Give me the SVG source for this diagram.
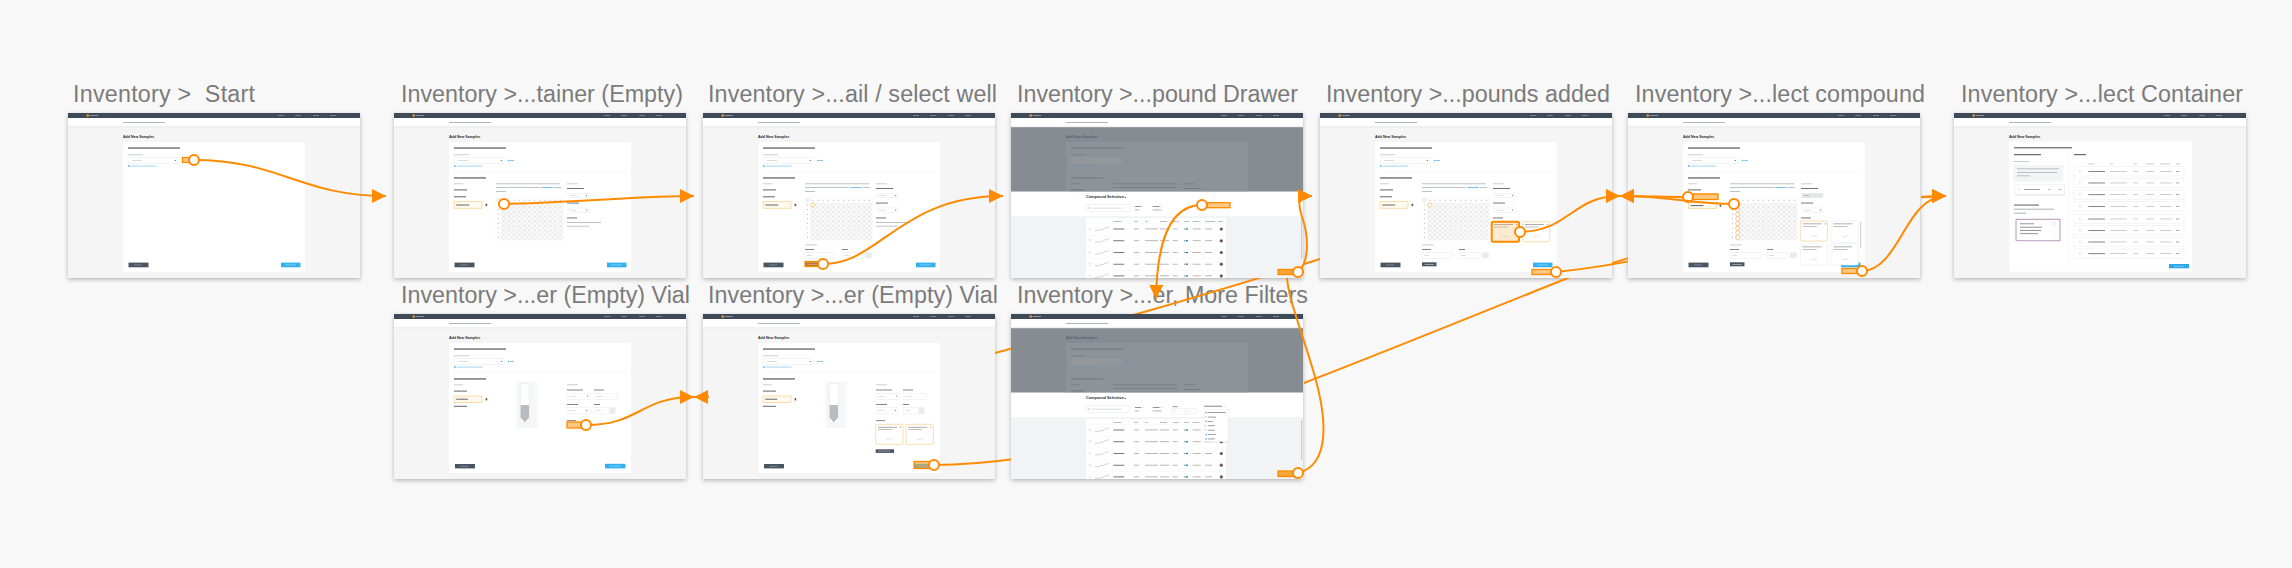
<svg xmlns="http://www.w3.org/2000/svg" width="2292" height="568" viewBox="0 0 2292 568">
<defs>
<style>
.title{font-family:"Liberation Sans",Arial,Helvetica,sans-serif;font-size:23.3px;fill:#7b7b7b;white-space:pre}
.h{font-family:"Liberation Sans",Arial,Helvetica,sans-serif;font-weight:bold;fill:#2a2a2a}
.conn{fill:none;stroke:#ff8a00;stroke-width:2}
.hot{fill:#ff9a1f;fill-opacity:.55;stroke:#ff8a00;stroke-width:1.3}
.hotc{fill:#ff9a1f;fill-opacity:.2;stroke:#ff8a00;stroke-width:2}
.lt{fill:#b3b7bb}
.dk{fill:#4a4a4a}
.md{fill:#666}
.ds{fill:#a4a8ac}
.ph{fill:#c9ccd0}
.bl{fill:#3fa8e6}
.inp{fill:#fff;stroke:#dfe2e5;stroke-width:.4}
.sel{fill:#fffaf0;stroke:#f8c674;stroke-width:.6}
.bd{fill:#4a5562}
.bb{fill:#33b1ef}
.fd{fill:#72777e}
.card{fill:#fff;stroke:#f9cf8a;stroke-width:.7}
.cardg{fill:#fff;stroke:#e3e5e7;stroke-width:.5}
</style>
<filter id="sh" x="-5%" y="-5%" width="110%" height="116%"><feDropShadow dx="0" dy="1.5" stdDeviation="2" flood-color="#000" flood-opacity=".28"/></filter>
<filter id="sh2" x="-20%" y="-10%" width="140%" height="130%"><feDropShadow dx="0" dy=".4" stdDeviation=".6" flood-color="#000" flood-opacity=".2"/></filter>
<marker id="arr" viewBox="0 0 14 14" refX="14" refY="7" markerWidth="14" markerHeight="14" markerUnits="userSpaceOnUse" orient="auto"><path d="M0,0 L14,7 L0,14 z" fill="#ff8a00"/></marker>
<marker id="dot" viewBox="-7 -7 14 14" refX="0" refY="0" markerWidth="14" markerHeight="14" markerUnits="userSpaceOnUse"><circle r="5" fill="#fff" stroke="#ff8a00" stroke-width="2"/></marker>
<pattern id="wells" patternUnits="userSpaceOnUse" x="107.15" y="89.65" width="5.15" height="4.65"><circle cx="2.575" cy="2.325" r="2.05" fill="#fbfbfb" stroke="#d2d2d2" stroke-width=".45"/></pattern>
<mask id="mA" maskUnits="userSpaceOnUse" x="0" y="0" width="2292" height="568"><rect width="2292" height="568" fill="#fff"/><rect x="709" y="314" width="286" height="165"/><rect x="1011" y="314" width="293" height="165"/><rect x="1011" y="113" width="293" height="165"/><rect x="1320" y="113" width="292" height="165"/></mask>
<mask id="m12" maskUnits="userSpaceOnUse" x="0" y="0" width="2292" height="568"><rect width="2292" height="568" fill="#fff"/><rect x="1011" y="314" width="293" height="165"/><rect x="1320" y="113" width="292" height="165"/><rect x="1628" y="113" width="293" height="165"/></mask>
<mask id="m6" maskUnits="userSpaceOnUse" x="0" y="0" width="2292" height="568"><rect width="2292" height="568" fill="#fff"/><rect x="1628" y="113" width="293" height="165"/></mask>
<mask id="m4" maskUnits="userSpaceOnUse" x="0" y="0" width="2292" height="568"><rect width="2292" height="568" fill="#fff"/><rect x="1011" y="113" width="293" height="165"/></mask>

<g id="chrome">
<rect width="292" height="165" fill="#f5f5f6" filter="url(#sh)"/>
<rect width="292" height="5" fill="#3e4a57"/>
<rect x="18.6" y="1.4" width="2.2" height="2.2" fill="#e9a33b"/>
<rect x="21.6" y="2.1" width="8.5" height=".8" fill="#9ca6b0"/>
<rect x="210" y="2.2" width="6" height=".7" fill="#8d98a3"/>
<rect x="227" y="2.2" width="6" height=".7" fill="#8d98a3"/>
<rect x="245" y="2.2" width="6" height=".7" fill="#8d98a3"/>
<rect x="262" y="2.2" width="6" height=".7" fill="#8d98a3"/>
<rect y="5" width="292" height="8.8" fill="#fff"/>
<rect y="13.6" width="292" height=".6" fill="#dadde0"/>
<rect x="55" y="9.1" width="42" height=".9" fill="#a9adb2"/>
</g>
<g id="cardHead">
<rect x="55" y="29" width="182" height="130" fill="#fff"/>
<text class="h" x="55" y="24.6" font-size="3.6">Add New Samples</text>
<rect x="60" y="34.5" width="52" height="1.1" class="dk"/>
<rect x="60" y="41.5" width="15" height=".7" class="lt"/>
<rect x="60" y="44.8" width="50" height="5.4" class="inp"/>
<rect x="64" y="47.1" width="10" height=".7" class="ph"/>
<path d="M106.4,47 h1.8 l-.9,1.1 z" fill="#444"/>
<rect x="60" y="52.4" width="1.7" height="1.3" class="bl"/>
<rect x="62.5" y="52.7" width="26" height=".7" fill="#79c0ec"/>
</g>
<g id="addLink"><rect x="114" y="46.9" width="1.4" height="1.1" class="bl"/><rect x="116.2" y="47.1" width="3.6" height=".7" class="bl"/></g>
<g id="btns"><rect x="60.5" y="149.6" width="20" height="4.7" class="bd"/><rect x="66" y="151.7" width="8" height=".5" fill="#aeb5bd"/><rect x="213" y="149.6" width="19.5" height="4.7" class="bb"/><rect x="217" y="151.7" width="11" height=".5" fill="#bfe6fb"/></g>
<g id="grid">
<rect x="102" y="84.8" width="67.2" height="42.3" fill="#fff" stroke="#eeeeee" stroke-width=".3"/>
<circle cx="104.5" cy="87.2" r="1.5" fill="none" stroke="#aaa" stroke-width=".35"/>
<line x1="107.15" y1="87.3" x2="169" y2="87.3" stroke="#999" stroke-width=".6" stroke-dasharray="0 1.9 1.35 1.9"/>
<line x1="104.5" y1="89.65" x2="104.5" y2="126.85" stroke="#999" stroke-width=".9" stroke-dasharray="0 1.95 .75 1.95"/>
<rect x="107.15" y="89.65" width="61.8" height="37.2" fill="url(#wells)"/>
</g>
<g id="details">
<rect x="60" y="58" width="172" height=".4" fill="#eceef0"/>
<rect x="60" y="64.4" width="32" height="1.1" class="dk"/>
<rect x="60" y="70.5" width="9" height=".7" class="lt"/>
<rect x="102" y="70.5" width="64" height=".7" class="ds"/>
<rect x="102" y="74.3" width="44" height=".7" class="ds"/>
<rect x="147" y="74.3" width="12" height=".7" class="bl"/>
<rect x="160" y="74.3" width="7" height=".7" class="ds"/>
<rect x="102" y="78" width="10" height=".7" class="ds"/>
<use href="#grid"/>
<rect x="173" y="70.5" width="11" height=".7" class="lt"/>
<rect x="173" y="75" width="17" height=".9" class="md"/>
<rect x="174" y="80.2" width="21" height="4.6" class="inp"/>
<rect x="176" y="82.1" width="7" height=".6" class="ph"/>
<path d="M191.8,82 h1.6 l-.8,1 z" fill="#444"/>
<rect x="173" y="89.6" width="12" height=".9" class="md"/>
<rect x="174" y="95" width="21" height="4.6" class="inp"/>
<rect x="176" y="96.9" width="7" height=".6" class="ph"/>
<path d="M191.8,96.8 h1.6 l-.8,1 z" fill="#444"/>
<rect x="173" y="104.5" width="10" height=".9" class="md"/>
</g>
<g id="leftCol">
<rect x="60" y="76.4" width="13" height="1" class="md"/>
<rect x="60" y="83.3" width="12" height="1" class="md"/>
<rect x="60" y="88.7" width="28" height="6.5" class="sel"/>
<rect x="62.2" y="91.5" width="13" height="1" class="md"/>
<rect x="91.6" y="90.8" width="1.6" height="2.3" fill="#555"/>
</g>
<g id="compDesc"><rect x="173" y="109" width="34" height=".7" class="ds"/><rect x="173" y="112.8" width="22" height=".7" class="ds"/></g>
<g id="wellc">
<rect x="102" y="131.6" width="12" height=".7" class="lt"/>
<rect x="102" y="136.2" width="9" height=".8" class="md"/>
<rect x="102" y="139.3" width="30" height="6" class="inp"/>
<rect x="104" y="141.9" width="5" height=".7" class="ph"/>
<rect x="139" y="136.2" width="6" height=".8" class="md"/>
<rect x="139" y="139.3" width="21" height="6" class="inp"/>
<rect x="141" y="141.9" width="5" height=".7" class="ph"/>
<rect x="162" y="139.3" width="6.7" height="6" fill="#e9ebed"/>
<rect x="102" y="149.3" width="14.5" height="4" class="bd"/>
<rect x="104.5" y="151" width="9.5" height=".6" fill="#c8ccd0"/>
</g>
<g id="cmpCard">
<rect x="0" y="0" width="27.3" height="20" rx="1" class="card"/>
<rect x="2.3" y="2.6" width="19" height=".6" fill="#777"/>
<rect x="24.3" y="2.3" width="1" height="1.2" fill="#999"/>
<rect x="2.3" y="5" width="14" height=".6" fill="#999"/>
<path d="M10.5,15.5 l2,-1 1.5,1 2,-1.5 1.5,1" fill="none" stroke="#c6c6c6" stroke-width=".5"/>
</g>
<g id="row">
<rect x="75" y="-5.7" width="140" height=".3" fill="#eceef0"/>
<rect x="78" y="-1" width="2" height="2" fill="none" stroke="#c8cacc" stroke-width=".3"/>
<path d="M84,1.8 l2.5,-.8 1.5,.8 2,-1.6 1.8,.6 2,-2 1.8,.4 2.4,-1.8" fill="none" stroke="#b99aa5" stroke-width=".5"/>
<rect x="102.3" y="-.4" width="11" height=".8" fill="#555"/>
<rect x="123" y="-.4" width="5" height=".7" fill="#999"/>
<rect x="134" y="-.4" width="13" height=".7" fill="#999"/>
<rect x="149" y="-.4" width="9" height=".7" fill="#999"/>
<rect x="161.7" y="-.4" width="5" height=".7" fill="#999"/>
<rect x="173" y="-.6" width="1.5" height="1.2" class="bl"/>
<rect x="175" y="-.6" width="2" height="1.2" fill="#555"/>
<rect x="181.7" y="-.4" width="8" height=".7" fill="#999"/>
<rect x="194" y="-.4" width="7" height=".7" fill="#999"/>
<circle cx="210.3" cy="0" r="1.6" fill="#6e5261"/>
</g>
<g id="drawer">
<rect y="14.2" width="292" height="64.5" fill="#878c93"/>
<rect x="55" y="29" width="182" height="49.7" fill="#8e9399"/>
<text x="55" y="24.6" font-size="3.6" font-weight="bold" font-family="Liberation Sans, Arial, sans-serif" fill="#5c6168">Add New Samples</text>
<rect x="60" y="34.5" width="52" height="1" class="fd"/>
<rect x="60" y="41.5" width="15" height=".7" class="fd"/>
<rect x="60" y="44.8" width="50" height="5.4" fill="#92979c" stroke="#9ba0a5" stroke-width=".4"/>
<rect x="114" y="47" width="5" height=".8" fill="#6f93ab"/>
<rect x="60" y="52.5" width="26" height=".7" fill="#7195ad"/>
<rect x="60" y="58" width="172" height=".4" fill="#9499a0"/>
<rect x="60" y="64.4" width="32" height="1" class="fd"/>
<rect x="60" y="70.5" width="9" height=".7" class="fd"/>
<rect x="60" y="76.4" width="13" height="1" class="fd"/>
<rect x="102" y="70.5" width="64" height=".7" class="fd"/>
<rect x="102" y="74.3" width="64" height=".7" class="fd"/>
<rect x="173" y="70.5" width="11" height=".7" class="fd"/>
<rect x="173" y="75" width="17" height=".8" class="fd"/>
<rect y="78.7" width="292" height="24.5" fill="#fff"/>
<rect y="103.2" width="292" height="61.8" fill="#f2f3f4"/>
<text class="h" x="75" y="85.4" font-size="3.8">Compound Selection</text>
<path d="M113.6,84.1 h1.8 l-.9,1.1 z" fill="#444"/>
<rect x="75" y="91.6" width="43.3" height="7" class="inp"/>
<circle cx="78" cy="95.1" r=".9" fill="none" stroke="#999" stroke-width=".3"/>
<rect x="80.5" y="94.8" width="30" height=".6" fill="#c2c5c8"/>
<rect x="124" y="93" width="6" height=".7" fill="#666"/>
<path d="M131.3,92.9 h1.2 l-.6,.8 z" fill="#777"/>
<rect x="124" y="96.6" width="4" height=".7" fill="#999"/>
<rect x="141.7" y="93" width="7" height=".7" fill="#666"/>
<path d="M150,92.9 h1.2 l-.6,.8 z" fill="#777"/>
<rect x="141.7" y="96.6" width="9" height=".7" fill="#999"/>
<rect x="75" y="105" width="140" height="60" fill="#fff"/>
<rect x="102.3" y="108" width="8" height=".6" fill="#8f9397"/>
<rect x="123" y="108" width="4" height=".6" fill="#8f9397"/>
<rect x="134" y="108" width="3" height=".6" fill="#8f9397"/>
<rect x="149" y="108" width="7" height=".6" fill="#8f9397"/>
<rect x="161.7" y="108" width="6" height=".6" fill="#8f9397"/>
<rect x="173" y="108" width="5" height=".6" fill="#8f9397"/>
<rect x="181.7" y="108" width="7" height=".6" fill="#8f9397"/>
<rect x="194" y="108" width="10" height=".6" fill="#8f9397"/>
<rect x="207" y="108" width="5" height=".6" fill="#8f9397"/>
<use href="#row" y="116"/>
<use href="#row" y="127.8"/>
<use href="#row" y="139.5"/>
<use href="#row" y="151.2"/>
<use href="#row" y="162.9"/>
<rect x="290" y="106" width="1.2" height="40" fill="#c9cbcd"/>
</g>
<g id="vial">
<rect x="60" y="58" width="172" height=".4" fill="#eceef0"/>
<rect x="60" y="64.4" width="32" height="1.1" class="dk"/>
<rect x="60" y="70.5" width="9" height=".7" class="lt"/>
<rect x="60" y="76.6" width="13" height="1" class="md"/>
<rect x="60" y="82" width="28" height="6.4" class="sel"/>
<rect x="62.2" y="84.7" width="12" height="1" class="md"/>
<rect x="91.6" y="84.1" width="1.6" height="2.3" fill="#555"/>
<rect x="60" y="91.8" width="13" height="1" class="md"/>
<rect x="122.5" y="67.5" width="21" height="46.5" fill="#f6f7f8"/>
<rect x="126.3" y="69.5" width="9" height="39.5" rx="1" fill="#fff" stroke="#dfe1e3" stroke-width=".5"/>
<path d="M126.6,91 h8.4 v12.5 l-4.2,5 l-4.2,-5 z" fill="#b8bcc0"/>
<rect x="173" y="70.5" width="11" height=".7" class="lt"/>
<rect x="173" y="75.6" width="16" height=".8" class="md"/>
<rect x="173" y="79.3" width="23" height="6" class="inp"/>
<rect x="175" y="81.9" width="7" height=".6" class="ph"/>
<path d="M192.6,81.8 h1.6 l-.8,1 z" fill="#444"/>
<rect x="200" y="75.6" width="10" height=".8" class="md"/>
<rect x="200" y="79.3" width="23.5" height="6" class="inp"/>
<rect x="202" y="81.9" width="7" height=".6" class="ph"/>
<rect x="173" y="90" width="11" height=".8" class="md"/>
<rect x="173" y="93.3" width="22" height="6.7" class="inp"/>
<rect x="175" y="96.3" width="7" height=".6" class="ph"/>
<path d="M191.8,96.2 h1.6 l-.8,1 z" fill="#444"/>
<rect x="200" y="90" width="6" height=".8" class="md"/>
<rect x="200" y="93.3" width="15" height="6.7" class="inp"/>
<rect x="202" y="96.3" width="5" height=".6" class="ph"/>
<rect x="216" y="93.3" width="5.3" height="6.7" fill="#e9ebed"/>
<rect x="173" y="106.3" width="9" height=".8" class="md"/>
<rect x="61" y="150" width="20" height="4.4" class="bd"/>
<rect x="66.5" y="151.9" width="8" height=".5" fill="#aeb5bd"/>
<rect x="211" y="149.8" width="20.5" height="4.6" class="bb"/>
<rect x="215" y="151.8" width="12" height=".5" fill="#bfe6fb"/>
</g>
<g id="crow">
<rect x="119.3" y="0" width="110.7" height="9.3" fill="#fff" stroke="#e4e6e8" stroke-width=".4"/>
<rect x="125.3" y="3.6" width="2.2" height="2.2" fill="none" stroke="#c8cacc" stroke-width=".3"/>
<rect x="134.3" y="4.3" width="16.7" height=".8" fill="#666"/>
<rect x="156" y="4.3" width="16.7" height=".7" fill="#b5b8bb"/>
<rect x="179.3" y="4.3" width="4.7" height=".7" fill="#b5b8bb"/>
<rect x="192" y="4.3" width="8" height=".7" fill="#b5b8bb"/>
<rect x="206" y="4.3" width="11.7" height=".7" fill="#b5b8bb"/>
<rect x="222" y="4.3" width="3.3" height=".7" fill="#888"/>
</g>
</defs>

<rect width="2292" height="568" fill="#f8f8f8"/>

<g id="node-start" transform="translate(68,113)">
<text class="title" x="5" y="-11.5" textLength="182" lengthAdjust="spacing">Inventory &gt;  Start</text>
<use href="#chrome"/><use href="#cardHead"/><use href="#btns"/>
</g>

<g id="node-container-empty" transform="translate(394,113)">
<text class="title" x="7" y="-11.5" textLength="282" lengthAdjust="spacing">Inventory &gt;...tainer (Empty)</text>
<use href="#chrome"/><use href="#cardHead"/><use href="#addLink"/><use href="#details"/><use href="#leftCol"/><use href="#compDesc"/><use href="#btns"/>
</g>

<g id="node-select-well" transform="translate(703,113)">
<text class="title" x="5" y="-11.5" textLength="289" lengthAdjust="spacing">Inventory &gt;...ail / select well</text>
<use href="#chrome"/><use href="#cardHead"/><use href="#addLink"/><use href="#details"/><use href="#leftCol"/><use href="#compDesc"/><use href="#wellc"/><use href="#btns"/>
<circle cx="109.725" cy="91.975" r="2.05" fill="#fff" stroke="#f7a531" stroke-width=".5"/>
</g>

<g id="node-compound-drawer" transform="translate(1011,113)">
<text class="title" x="6" y="-11.5" textLength="281" lengthAdjust="spacing">Inventory &gt;...pound Drawer</text>
<use href="#chrome"/><use href="#drawer"/>
<rect x="196" y="89.7" width="23" height="5" fill="#fff" stroke="#d0d3d6" stroke-width=".4"/>
<rect x="267" y="156.5" width="21" height="5" fill="#f2b35c"/>
</g>

<g id="node-compounds-added" transform="translate(1320,113)">
<text class="title" x="6" y="-11.5" textLength="284" lengthAdjust="spacing">Inventory &gt;...pounds added</text>
<use href="#chrome"/><use href="#cardHead"/><use href="#addLink"/><use href="#details"/><use href="#leftCol"/><use href="#wellc"/><use href="#btns"/>
<circle cx="109.725" cy="91.975" r="2.05" fill="#fff" stroke="#f7a531" stroke-width=".5"/>
<use href="#cmpCard" x="171.7" y="108.7"/>
<use href="#cmpCard" x="202.4" y="108.7"/>
</g>

<g id="node-select-compound" transform="translate(1628,113)">
<text class="title" x="7" y="-11.5" textLength="290" lengthAdjust="spacing">Inventory &gt;...lect compound</text>
<use href="#chrome"/><use href="#cardHead"/><use href="#addLink"/><use href="#details"/><use href="#wellc"/><use href="#btns"/>
<rect x="60" y="76.4" width="13" height="1" class="md"/>
<rect x="62" y="81" width="28" height="5.5" class="sel"/>
<rect x="60.3" y="89.7" width="28.4" height="5.6" class="sel"/>
<rect x="62.5" y="92.1" width="13" height="1" class="md"/>
<rect x="91.6" y="91.4" width="1.6" height="2.3" fill="#555"/>
<rect x="174" y="80.2" width="21" height="4.6" fill="#e4e5e7"/>
<rect x="176" y="82.1" width="5" height=".6" fill="#999"/>
<g fill="#fff" stroke="#f7a531" stroke-width=".5">
<circle cx="109.725" cy="91.975" r="2.05"/><circle cx="109.725" cy="96.625" r="2.05"/><circle cx="109.725" cy="101.275" r="2.05"/><circle cx="109.725" cy="105.925" r="2.05"/><circle cx="109.725" cy="110.575" r="2.05"/><circle cx="109.725" cy="115.225" r="2.05"/><circle cx="109.725" cy="119.875" r="2.05"/><circle cx="109.725" cy="124.525" r="2.05"/>
</g>
<use href="#cmpCard" x="172.3" y="108"/>
<g><rect x="203" y="108" width="27.3" height="21.7" rx="1" class="cardg"/><rect x="205.3" y="110.6" width="19" height=".6" fill="#777"/><rect x="205.3" y="113" width="14" height=".6" fill="#999"/><path d="M213.5,124 l2,-1 1.5,1 2,-1.5 1.5,1" fill="none" stroke="#c6c6c6" stroke-width=".5"/></g>
<g><rect x="172.3" y="131" width="27.3" height="21" rx="1" class="cardg"/><rect x="174.6" y="133.6" width="19" height=".6" fill="#777"/><rect x="174.6" y="136" width="14" height=".6" fill="#999"/><path d="M182.8,147 l2,-1 1.5,1 2,-1.5 1.5,1" fill="none" stroke="#c6c6c6" stroke-width=".5"/></g>
<g><rect x="203" y="131" width="27.3" height="21" rx="1" class="cardg"/><rect x="205.3" y="133.6" width="19" height=".6" fill="#777"/><rect x="205.3" y="136" width="14" height=".6" fill="#999"/><path d="M213.5,147 l2,-1 1.5,1 2,-1.5 1.5,1" fill="none" stroke="#c6c6c6" stroke-width=".5"/></g>
<rect x="232.3" y="108.7" width=".9" height="26" fill="#c4c6c8"/>
</g>

<g id="node-select-container" transform="translate(1954,113)">
<text class="title" x="7" y="-11.5" textLength="282" lengthAdjust="spacing">Inventory &gt;...lect Container</text>
<use href="#chrome"/>
<rect x="55.3" y="28.7" width="182.7" height="130" fill="#fff"/>
<text class="h" x="55" y="24.6" font-size="3.6">Add New Samples</text>
<rect x="60" y="34.3" width="58" height="1" class="dk"/>
<rect x="60" y="41.2" width="27" height="1" class="dk"/>
<rect x="114.3" y="40" width=".4" height="113" fill="#eceef0"/>
<rect x="120" y="41.2" width="12" height="1" class="dk"/>
<rect x="60" y="48.3" width="15" height=".7" class="lt"/>
<rect x="59.3" y="52" width="50" height="16.7" fill="#f3f4f5"/>
<rect x="63" y="55.5" width="42" height=".7" class="ds"/>
<rect x="63" y="59" width="40" height=".7" class="ds"/>
<rect x="63" y="62.5" width="13" height=".7" class="ds"/>
<rect x="61" y="72" width="49.3" height="9.3" fill="#fff" stroke="#e3e5e7" stroke-width=".4" filter="url(#sh2)"/>
<rect x="64" y="75.6" width="2" height="2" fill="none" stroke="#c8cacc" stroke-width=".3"/>
<rect x="70" y="76.3" width="16" height=".7" fill="#777"/>
<rect x="94" y="76.3" width="3" height=".7" fill="#aaa"/>
<rect x="104" y="76.3" width="3" height=".7" fill="#aaa"/>
<rect x="60" y="91.6" width="25" height=".9" class="dk"/>
<rect x="60" y="95.8" width="40" height=".7" fill="#8c9094"/>
<rect x="60" y="99.8" width="12" height=".7" fill="#8c9094"/>
<rect x="62" y="106.3" width="44" height="21.4" fill="#fff" stroke="#e57373" stroke-width=".9" stroke-dasharray="2 2"/>
<rect x="62" y="106.3" width="44" height="21.4" fill="none" stroke="#64a0e0" stroke-width=".9" stroke-dasharray="2 2" stroke-dashoffset="2"/>
<rect x="66" y="110.5" width="14" height=".7" fill="#666"/>
<rect x="66" y="113.8" width="22" height=".7" fill="#666"/>
<rect x="66" y="117.1" width="21" height=".7" fill="#666"/>
<rect x="66" y="120.4" width="18" height=".7" fill="#666"/>
<rect x="98" y="109" width="3.5" height="3.5" fill="none" stroke="#bbb" stroke-width=".3"/>
<rect x="134.3" y="50.7" width="6" height=".6" class="ds"/>
<rect x="156" y="50.7" width="3" height=".6" class="ds"/>
<rect x="179.3" y="50.7" width="4" height=".6" class="ds"/>
<rect x="192" y="50.7" width="8" height=".6" class="ds"/>
<rect x="206" y="50.7" width="10" height=".6" class="ds"/>
<rect x="222" y="50.7" width="4" height=".6" class="ds"/>
<use href="#crow" y="53.7"/><use href="#crow" y="65.3"/><use href="#crow" y="77"/><use href="#crow" y="88.7"/>
<use href="#crow" y="101.3"/><use href="#crow" y="112.7"/><use href="#crow" y="124.3"/><use href="#crow" y="136"/>
<rect x="215" y="151" width="20" height="4.3" fill="#2fa6e9"/>
<rect x="220" y="152.9" width="10" height=".5" fill="#bfe6fb"/>
</g>

<g id="node-vial-empty" transform="translate(394,314)">
<text class="title" x="7" y="-11.3" textLength="289" lengthAdjust="spacing">Inventory &gt;...er (Empty) Vial</text>
<use href="#chrome"/><use href="#cardHead"/><use href="#addLink"/><use href="#vial"/>
</g>

<g id="node-vial-compounds" transform="translate(703,314)">
<text class="title" x="5" y="-11.3" textLength="290" lengthAdjust="spacing">Inventory &gt;...er (Empty) Vial</text>
<use href="#chrome"/><use href="#cardHead"/><use href="#addLink"/><use href="#vial"/>
<use href="#cmpCard" x="172.7" y="110.3"/>
<use href="#cmpCard" x="203" y="110.3"/>
<rect x="172.7" y="135.3" width="18.3" height="3.6" class="bd"/>
<rect x="175" y="136.8" width="12" height=".5" fill="#c8ccd0"/>
</g>

<g id="node-more-filters" transform="translate(1011,314)">
<text class="title" x="6" y="-11.3" textLength="291" lengthAdjust="spacing">Inventory &gt;...er, More Filters</text>
<use href="#chrome"/><use href="#drawer"/>
<rect x="161.7" y="92.4" width="5" height=".7" fill="#666"/>
<rect x="161.7" y="94.3" width="11.6" height="5.7" class="inp"/>
<rect x="163" y="96.8" width="3" height=".6" class="ph"/>
<rect x="175" y="94.3" width="10.7" height="5.7" class="inp"/>
<rect x="176.3" y="96.8" width="3" height=".6" class="ph"/>
<rect x="193" y="91.8" width="18" height=".7" fill="#555"/>
<path d="M213.5,91.7 h1.2 l-.6,.8 z" fill="#777"/>
<rect x="193" y="95.3" width="24" height="32.4" fill="#fff" stroke="#e2e4e6" stroke-width=".3" filter="url(#sh2)"/>
<rect x="194.5" y="98" width="1.3" height="1.3" class="bl"/><rect x="196.8" y="98.3" width="18" height=".7" fill="#777"/>
<rect x="194.5" y="102.4" width="1.3" height="1.3" fill="#fff" stroke="#bbb" stroke-width=".2"/><rect x="196.8" y="102.7" width="8" height=".7" fill="#777"/>
<rect x="194.5" y="106.7" width="1.3" height="1.3" class="bl"/><rect x="196.8" y="107" width="5" height=".7" fill="#777"/>
<rect x="194.5" y="111.1" width="1.3" height="1.3" fill="#fff" stroke="#bbb" stroke-width=".2"/><rect x="196.8" y="111.4" width="7" height=".7" fill="#777"/>
<rect x="194.5" y="115.5" width="1.3" height="1.3" fill="#fff" stroke="#bbb" stroke-width=".2"/><rect x="196.8" y="115.8" width="7" height=".7" fill="#777"/>
<rect x="194.5" y="119.9" width="1.3" height="1.3" class="bl"/><rect x="196.8" y="120.2" width="8" height=".7" fill="#777"/>
<rect x="194.5" y="124.3" width="1.3" height="1.3" class="bl"/><rect x="196.8" y="124.6" width="7" height=".7" fill="#777"/>
<rect x="267" y="157" width="21" height="5.5" fill="#f2b35c"/>
</g>

<g id="connectors">
<rect class="hot" x="182.5" y="157.5" width="10" height="5"/>
<rect class="hot" x="805" y="261.5" width="14" height="5"/>
<rect class="hot" x="1207" y="202.7" width="23" height="5"/>
<rect class="hot" x="1278" y="269.5" width="21" height="5"/>
<rect class="hotc" x="1491.7" y="221.7" width="27.3" height="20" rx="1.5"/>
<rect class="hot" x="1693" y="194" width="25" height="5.5"/>
<rect class="hot" x="1842" y="268.5" width="20" height="5"/>
<rect class="hot" x="1532" y="269.5" width="24" height="5"/>
<rect class="hot" x="567" y="422" width="16" height="6"/>
<rect class="hot" x="914" y="461.5" width="20" height="7"/>
<rect class="hot" x="1278" y="471" width="21" height="5.5"/>
<path class="conn" marker-end="url(#arr)" mask="url(#mA)" d="M1470,212 C1410,228 1370,243 1320,259 C1260,278 1200,296 1137,314 C1090,327 1040,341 995,353 C900,380 790,397 694,397"/>
<path class="conn" marker-start="url(#dot)" marker-end="url(#arr)" d="M194,160 C280,160 300,196 386,196"/>
<path class="conn" marker-start="url(#dot)" marker-end="url(#arr)" d="M504,204 C600,201 640,196 694,196"/>
<path class="conn" marker-start="url(#dot)" marker-end="url(#arr)" d="M823,264 C880,264 900,196 1003,196"/>
<path class="conn" marker-start="url(#dot)" marker-end="url(#arr)" d="M1202,205 C1170,205 1157,240 1156,299"/>
<path class="conn" marker-start="url(#dot)" marker-end="url(#arr)" mask="url(#m4)" d="M1298,473 C1330,465 1328,420 1313,370 C1298,320 1289,300 1287,278 C1285,240 1285,196 1312,196"/>
<path class="conn" marker-start="url(#dot)" marker-end="url(#arr)" d="M1298,272 C1310,262 1308,235 1303,220 C1298,205 1296,196 1312,196"/>
<path class="conn" marker-start="url(#dot)" marker-end="url(#arr)" d="M1520,232 C1570,231 1572,196 1620,196"/>
<path class="conn" marker-start="url(#dot)" marker-end="url(#arr)" d="M1688,197 C1660,197 1650,196 1620,196"/>
<path class="conn" marker-start="url(#dot)" marker-end="url(#arr)" d="M1734,204 C1690,204 1672,196 1620,196"/>
<path class="conn" marker-start="url(#dot)" marker-end="url(#arr)" d="M1862,271 C1900,270 1905,196 1946,196"/>
<path class="conn" marker-start="url(#dot)" marker-end="url(#arr)" mask="url(#m6)" d="M1556,272 C1700,258 1850,196 1946,196"/>
<path class="conn" marker-start="url(#dot)" marker-end="url(#arr)" d="M586,425 C640,425 640,397 694,397"/>
<path class="conn" marker-start="url(#dot)" marker-end="url(#arr)" mask="url(#m12)" d="M934,465 C1050,465 1200,420 1304,383 C1390,350 1480,313 1568,278 C1640,250 1860,196 1946,196"/>
</g>
</svg>
